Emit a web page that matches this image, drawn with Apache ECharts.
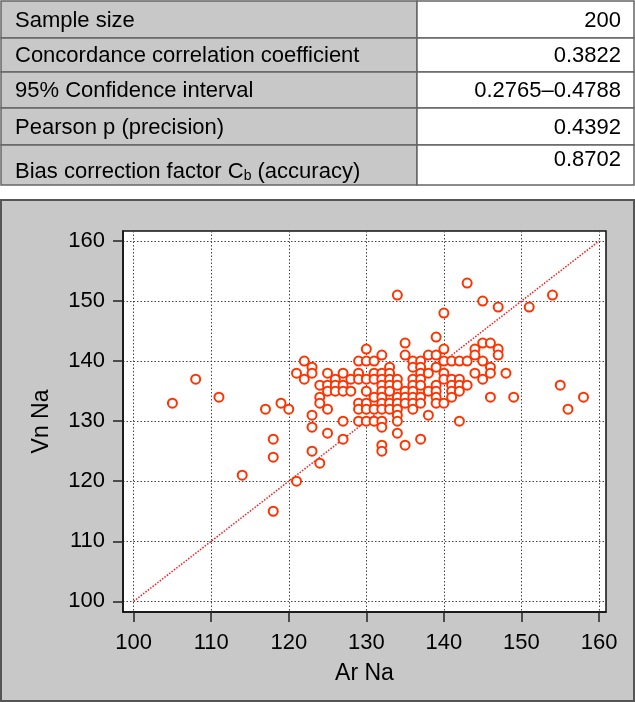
<!DOCTYPE html>
<html>
<head>
<meta charset="utf-8">
<script src="https://cdn.jsdelivr.net/npm/echarts@6/dist/echarts.min.js"></script>
<style>
html,body{margin:0;padding:0;background:#fff;}
#chart{width:635px;height:702px;}
</style>
</head>
<body>
<div id="chart"></div>
<script>
// ---- Table data ----
const tableLabels = ['Sample size', 'Concordance correlation coefficient', '95% Confidence interval', 'Pearson p (precision)', 'BIAS'];
const tableValues = ['200', '0.3822', '0.2765\u20130.4788', '0.4392', '0.8702'];

// ---- Axis ticks ----
const xTicks = [100, 110, 120, 130, 140, 150, 160];
const yTicks = [100, 110, 120, 130, 140, 150, 160];
const identityLine = [100, 160];

// ---- Scatter data (Ar Na vs Vn Na) ----
const arNa = [
  105,108,111,114,117,118,118,118,119,120,121,121,
  122,122,123,123,123,123,123,124,124,124,124,
  125,125,125,125,125,
  126,126,126,
  127,127,127,127,127,
  128,128,
  129,129,129,129,129,129,
  130,130,130,130,130,130,130,
  131,131,131,131,131,131,
  132,132,132,132,132,132,132,132,132,132,132,132,
  133,133,133,133,133,133,133,
  134,134,134,134,134,134,134,134,134,
  135,135,135,135,135,135,
  136,136,136,136,136,136,136,136,
  137,137,137,137,137,137,137,137,
  138,138,138,138,
  139,139,139,139,139,139,139,
  140,140,140,140,140,140,
  141,141,141,141,141,
  142,142,142,142,142,
  143,143,143,
  144,144,144,
  145,145,145,145,
  146,146,146,146,
  147,147,147,
  148,149,151,154,155,156,158
];
const vnNa = [
  133,137,134,121,132,127,124,115,133,132,138,120,
  140,137,139,138,131,129,125,136,134,133,123,
  138,136,135,132,128,
  137,136,135,
  138,136,135,130,127,
  137,135,
  140,138,137,133,132,130,
  142,140,137,135,133,132,130,
  140,138,137,134,132,130,
  141,138,137,136,135,134,133,132,130,129,126,125,
  139,138,137,136,135,133,132,
  151,137,136,134,133,132,131,130,128,
  143,141,135,134,133,126,
  140,139,137,136,135,134,133,132,
  140,139,138,137,136,134,133,127,
  141,138,135,131,
  144,141,139,136,135,134,133,
  148,142,140,138,137,133,
  140,137,136,135,134,
  140,137,136,135,130,
  153,140,136,
  142,141,138,
  150,143,140,137,
  143,139,138,134,
  149,142,141,
  138,134,149,151,136,132,134
];

const points = arNa.map((x, i) => [x, vnNa[i]]);

// ---- Layout constants ----
const tableRows = [1, 38, 72, 108, 145, 185];
const colSplit = 417;
const tableRight = 634;
const FONT = '"Liberation Sans", Arial, Helvetica, sans-serif';

const chart = echarts.init(document.getElementById('chart'), null, {renderer: 'canvas'});

const graphics = [];
// Panel background
graphics.push({
  type: 'rect', z: -10, silent: true,
  shape: {x: 1, y: 200, width: 633, height: 501},
  style: {fill: '#c8c8c8', stroke: '#555', lineWidth: 2}
});
// Table cells
for (let r = 0; r < 5; r++) {
  const y0 = tableRows[r], y1 = tableRows[r + 1];
  graphics.push({
    type: 'rect', z: -5, silent: true,
    shape: {x: 1, y: y0, width: colSplit - 1, height: y1 - y0},
    style: {fill: '#c8c8c8', stroke: '#666', lineWidth: 1.5}
  });
  graphics.push({
    type: 'rect', z: -5, silent: true,
    shape: {x: colSplit, y: y0, width: tableRight - colSplit, height: y1 - y0},
    style: {fill: '#ffffff', stroke: '#666', lineWidth: 1.5}
  });
  const isLast = r === 4;
  const midY = (y0 + y1) / 2;
  if (!isLast) {
    graphics.push({
      type: 'text', z: 1, silent: true,
      x: 15, y: midY + 1,
      style: {text: tableLabels[r], font: '22px ' + FONT, fill: '#000', verticalAlign: 'middle', align: 'left'}
    });
  } else {
    graphics.push({
      type: 'text', z: 1, silent: true,
      x: 15, y: midY + 3,
      style: {
        text: '{n|Bias correction factor C}{s|b}{n| (accuracy)}',
        verticalAlign: 'middle', align: 'left',
        rich: {
          n: {font: '22px ' + FONT, fill: '#000', lineHeight: 30, verticalAlign: 'bottom'},
          s: {font: '14px ' + FONT, fill: '#000', lineHeight: 14, verticalAlign: 'bottom'}
        }
      }
    });
  }
  graphics.push({
    type: 'text', z: 1, silent: true,
    x: 621, y: isLast ? midY - 5 : midY + 1,
    style: {text: tableValues[r], font: '22px ' + FONT, fill: '#000', verticalAlign: 'middle', align: 'right'}
  });
}

const axisCommon = {
  type: 'value',
  axisLine: {show: true, onZero: false, lineStyle: {color: '#111', width: 1.5}},
  axisTick: {show: true, inside: false, length: 10, lineStyle: {color: '#222', width: 1.5}},
  axisLabel: {color: '#000', fontSize: 22, fontFamily: FONT},
  splitLine: {show: true, lineStyle: {color: '#444', width: 1, type: [1.5, 2]}},
  nameLocation: 'middle',
  nameTextStyle: {color: '#000', fontSize: 23, fontFamily: FONT}
};

const option = {
  animation: false,
  backgroundColor: 'transparent',
  graphic: graphics,
  grid: {
    left: 123, right: 29, top: 231, bottom: 90,
    show: true, backgroundColor: '#fff', borderColor: '#111', borderWidth: 1.5,
    containLabel: false, outerBoundsMode: 'none'
  },
  xAxis: Object.assign({}, axisCommon, {
    min: 98.63, max: 160.9,
    name: 'Ar Na', nameGap: 50,
    axisTick: Object.assign({}, axisCommon.axisTick, {customValues: xTicks}),
    axisLabel: Object.assign({}, axisCommon.axisLabel, {customValues: xTicks, margin: 20})
  }),
  yAxis: Object.assign({}, axisCommon, {
    min: 98.22, max: 161.67,
    name: 'Vn Na', nameGap: 70,
    axisTick: Object.assign({}, axisCommon.axisTick, {customValues: yTicks}),
    axisLabel: Object.assign({}, axisCommon.axisLabel, {customValues: yTicks, margin: 18})
  }),
  series: [
    {
      type: 'line',
      data: [[identityLine[0], identityLine[0]], [identityLine[1], identityLine[1]]],
      symbol: 'none',
      lineStyle: {color: '#ff1a1a', width: 1.5, type: [1.5, 1.5]},
      z: 2, silent: true
    },
    {
      type: 'scatter',
      data: points,
      symbol: 'circle',
      symbolSize: 9,
      itemStyle: {color: '#ffffff', borderColor: '#ff3300', borderWidth: 2, opacity: 1},
      z: 3, silent: true
    }
  ]
};
chart.setOption(option);
</script>
</body>
</html>
